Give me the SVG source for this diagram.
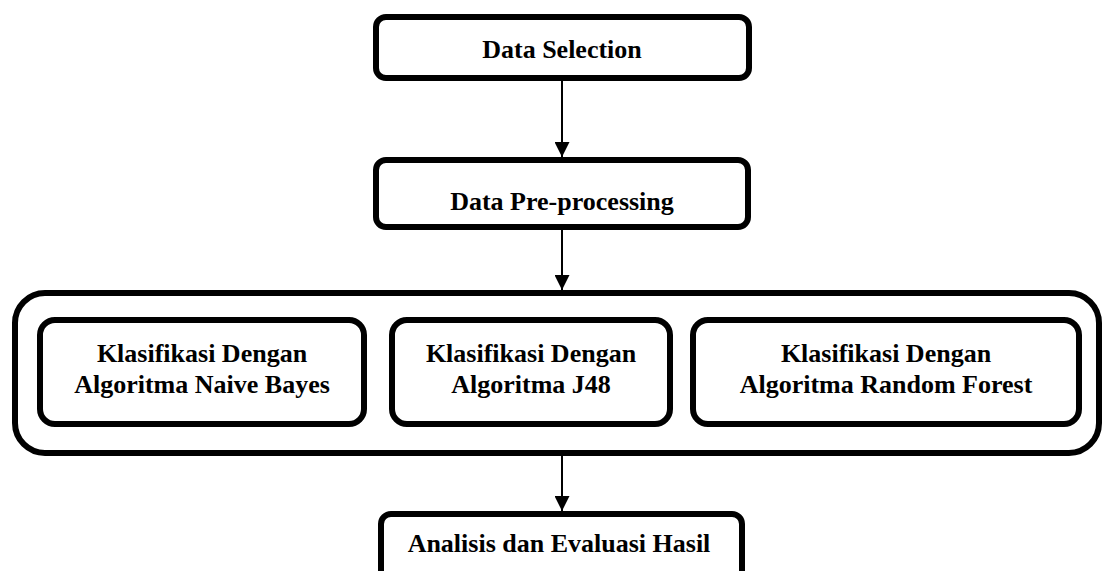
<svg xmlns="http://www.w3.org/2000/svg" width="1103" height="571" viewBox="0 0 1103 571">
<style>
.box{fill:#fff;stroke:#000;stroke-width:6}
.t{font-family:"Liberation Serif","Times New Roman",serif;font-weight:bold;font-size:26px;fill:#000;text-anchor:middle}
.c{stroke:#000;stroke-width:2;fill:none}
</style>
<defs>
<marker id="ah" markerWidth="15" markerHeight="15" refX="15" refY="7.5" orient="auto" markerUnits="userSpaceOnUse">
<path d="M0,0 L15,7.5 L0,15 Z" fill="#000"/>
</marker>
</defs>
<rect width="1103" height="571" fill="#fff"/>
<g id="container">
<rect class="box" x="15" y="293" width="1084" height="160" rx="30"/>
</g>
<g id="data-selection">
<rect class="box" x="376" y="17" width="373" height="61" rx="10"/>
<text class="t" x="562" y="58">Data Selection</text>
</g>
<g id="data-preprocessing">
<rect class="box" x="376" y="160" width="372" height="67" rx="10"/>
<text class="t" x="562" y="210">Data Pre-processing</text>
</g>
<g id="naive-bayes">
<rect class="box" x="40" y="320" width="324" height="104" rx="15"/>
<text class="t" x="202" y="362">Klasifikasi Dengan</text>
<text class="t" x="202" y="393">Algoritma Naive Bayes</text>
</g>
<g id="j48">
<rect class="box" x="392" y="320" width="278" height="104" rx="15"/>
<text class="t" x="531" y="362">Klasifikasi Dengan</text>
<text class="t" x="531" y="393">Algoritma J48</text>
</g>
<g id="random-forest">
<rect class="box" x="693" y="320" width="386" height="104" rx="15"/>
<text class="t" x="886" y="362">Klasifikasi Dengan</text>
<text class="t" x="886" y="393">Algoritma Random Forest</text>
</g>
<g id="analisis">
<rect class="box" x="381" y="514" width="361" height="70" rx="10"/>
<text class="t" x="559" y="552">Analisis dan Evaluasi Hasil</text>
</g>
<g id="connectors">
<line class="c" x1="562" y1="81" x2="562" y2="157" marker-end="url(#ah)"/>
<line class="c" x1="562" y1="230" x2="562" y2="290" marker-end="url(#ah)"/>
<line class="c" x1="562" y1="456" x2="562" y2="511" marker-end="url(#ah)"/>
</g>
</svg>
